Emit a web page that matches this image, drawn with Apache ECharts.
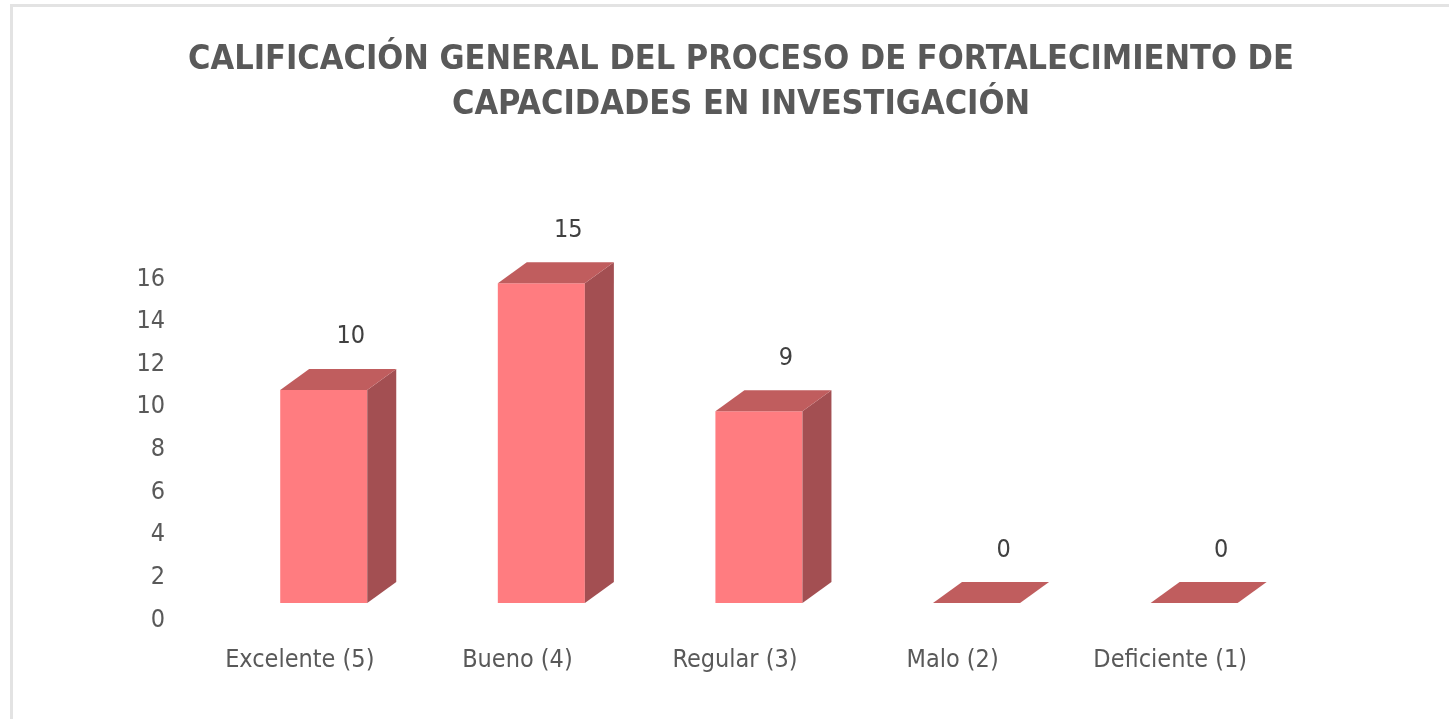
<!DOCTYPE html>
<html>
<head>
<meta charset="utf-8">
<title>Calificación general</title>
<script src="https://cdn.jsdelivr.net/npm/echarts@6/dist/echarts.min.js"></script>
<style>
  html, body { margin: 0; padding: 0; background: #fff; }
  #main { width: 1449px; height: 719px; }
</style>
</head>
<body>
<div id="main"></div>
<script>
var titulo = 'CALIFICACIÓN GENERAL DEL PROCESO DE FORTALECIMIENTO DE\nCAPACIDADES EN INVESTIGACIÓN';
var categorias = ['Excelente (5)', 'Bueno (4)', 'Regular (3)', 'Malo (2)', 'Deficiente (1)'];
var valores = [10, 15, 9, 0, 0];

var fuente = "'Liberation Sans Narrow', 'DejaVu Sans Condensed', Arial, sans-serif";

// caras de la barra 3d
var colorFrente = '#ff7c80';
var colorArriba = '#c05d5e';
var colorLado = '#a34f52';
var prof = [29, 21];   // desplazamiento de la profundidad
var alzar = 17;        // la cara frontal va por encima del eje

var myChart = echarts.init(document.getElementById('main'));

function renderBarra(params, api) {
    var i = api.value(0);
    var v = api.value(1);
    var base = api.coord([i, 0]);
    var tope = api.coord([i, v]);
    var banda = api.size([1, 0])[0];
    var w = banda * 0.4;
    var cx = base[0] + banda * 0.11;
    var x0 = cx - w / 2, x1 = cx + w / 2;
    var yb = base[1] - alzar, yt = tope[1] - alzar;
    var dx = prof[0], dy = prof[1];
    var hijos = [];
    if (yb - yt > 0) {
        hijos.push({
            type: 'rect',
            shape: { x: x0, y: yt, width: w, height: yb - yt },
            style: { fill: colorFrente }
        });
        hijos.push({
            type: 'polygon',
            shape: { points: [[x1, yt], [x1 + dx, yt - dy], [x1 + dx, yb - dy], [x1, yb]] },
            style: { fill: colorLado }
        });
    }
    hijos.push({
        type: 'polygon',
        shape: { points: [[x0, yt], [x1, yt], [x1 + dx, yt - dy], [x0 + dx, yt - dy]] },
        style: { fill: colorArriba }
    });
    hijos.push({
        type: 'text',
        style: {
            x: cx + 27, y: yt - dy - 32,
            text: String(v),
            align: 'center', verticalAlign: 'middle',
            fill: '#404040', fontSize: 25, fontFamily: fuente
        }
    });
    return { type: 'group', children: hijos };
}

var option = {
    backgroundColor: '#fff',
    animation: false,
    title: {
        text: titulo,
        left: 736,
        top: 33,
        textAlign: 'center',
        textStyle: {
            color: '#595959',
            fontSize: 34,
            fontWeight: 'bold',
            lineHeight: 45,
            fontFamily: fuente
        }
    },
    graphic: [
        { type: 'rect', shape: { x: 10, y: 4, width: 1439, height: 3 }, style: { fill: '#e3e3e3' } },
        { type: 'rect', shape: { x: 10, y: 4, width: 3, height: 715 }, style: { fill: '#e3e3e3' } }
    ],
    grid: { left: 191, right: 170, top: 279, bottom: 99 },
    xAxis: {
        type: 'category',
        data: categorias,
        axisLine: { show: false },
        axisTick: { show: false },
        axisLabel: { margin: 28, color: '#595959', fontSize: 25, fontFamily: fuente }
    },
    yAxis: {
        type: 'value',
        min: 0,
        max: 16,
        interval: 2,
        splitLine: { show: false },
        axisLine: { show: false },
        axisTick: { show: false },
        axisLabel: { margin: 26, color: '#595959', fontSize: 25, fontFamily: fuente }
    },
    series: [{
        type: 'custom',
        renderItem: renderBarra,
        data: valores.map(function (v, i) { return [i, v]; }),
        encode: { x: 0, y: 1 }
    }]
};

myChart.setOption(option);
</script>
</body>
</html>
